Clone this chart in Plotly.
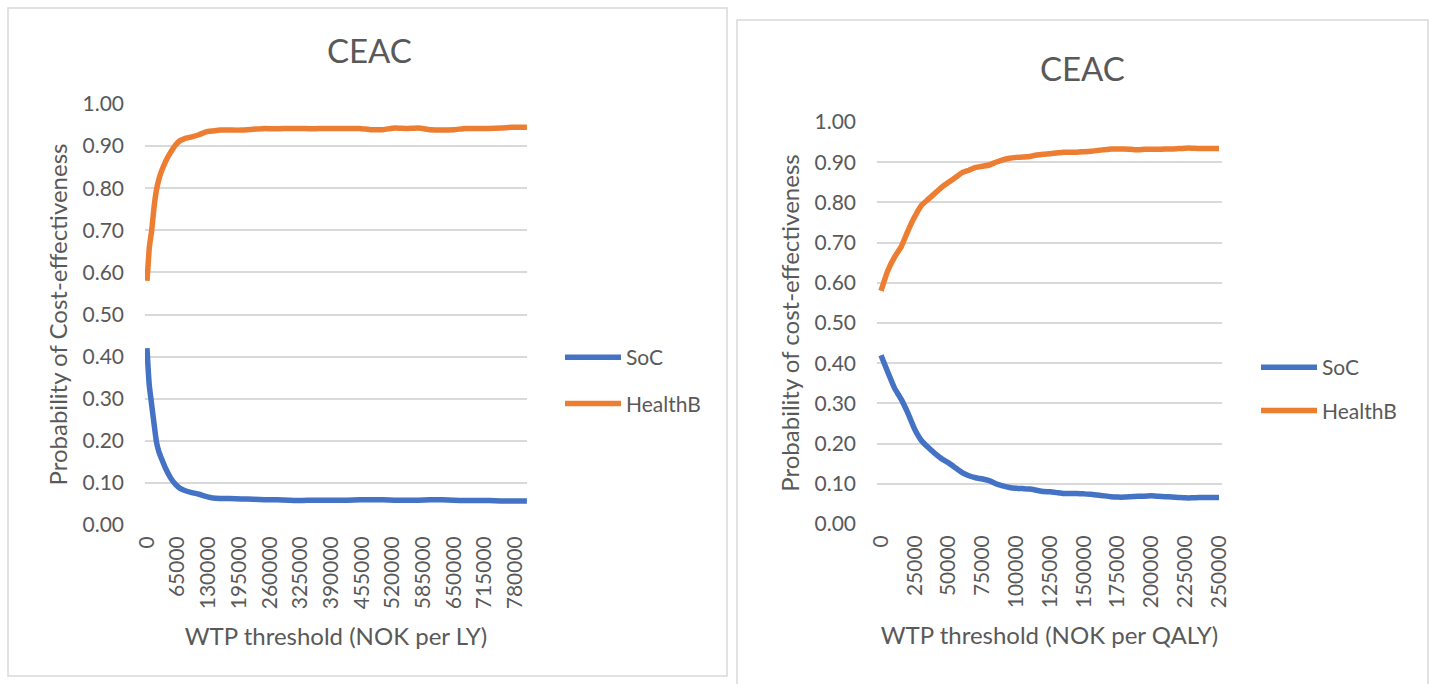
import plotly.graph_objects as go

# ---------------- data ----------------
wtp_ly = [0, 2500, 5000, 10000, 15000, 20000, 25000, 30000, 35000, 40000, 50000, 60000,
          70000, 80000, 95000, 110000, 125000, 140000, 155000, 175000, 200000, 225000,
          250000, 275000, 300000, 325000, 350000, 375000, 400000, 425000, 450000, 475000,
          500000, 525000, 550000, 575000, 600000, 625000, 650000, 675000, 700000, 725000,
          750000, 775000, 805000]
soc_ly = [0.420, 0.370, 0.330, 0.285, 0.240, 0.198, 0.175, 0.160, 0.146, 0.133, 0.112, 0.097,
          0.087, 0.082, 0.077, 0.073, 0.068, 0.064, 0.063, 0.063, 0.062, 0.061,
          0.060, 0.060, 0.059, 0.058, 0.059, 0.059, 0.059, 0.059, 0.060, 0.060,
          0.060, 0.059, 0.059, 0.059, 0.060, 0.060, 0.059, 0.058, 0.058, 0.058,
          0.057, 0.057, 0.057]
hb_ly = [0.580, 0.620, 0.660, 0.700, 0.755, 0.795, 0.820, 0.838, 0.852, 0.865, 0.885, 0.902,
         0.913, 0.918, 0.922, 0.927, 0.934, 0.936, 0.938, 0.938, 0.938, 0.940,
         0.942, 0.941, 0.942, 0.942, 0.941, 0.942, 0.942, 0.942, 0.942, 0.939,
         0.939, 0.943, 0.942, 0.943, 0.939, 0.938, 0.939, 0.942, 0.942, 0.942,
         0.943, 0.945, 0.945]

wtp_qaly = [0, 5000, 10000, 15000, 20000, 25000, 30000, 35000, 40000, 45000, 50000,
            55000, 60000, 65000, 70000, 75000, 80000, 85000, 90000, 95000, 100000,
            105000, 110000, 115000, 120000, 125000, 130000, 135000, 140000, 145000, 150000,
            155000, 160000, 165000, 170000, 175000, 180000, 185000, 190000, 195000, 200000,
            205000, 210000, 215000, 220000, 225000, 230000, 235000, 240000, 245000, 250000]
soc_qaly = [0.420, 0.378, 0.338, 0.310, 0.275, 0.235, 0.207, 0.190, 0.175, 0.162, 0.152,
            0.140, 0.128, 0.120, 0.115, 0.112, 0.108, 0.100, 0.095, 0.091, 0.089,
            0.088, 0.087, 0.084, 0.081, 0.080, 0.078, 0.076, 0.076, 0.076, 0.075,
            0.074, 0.072, 0.070, 0.068, 0.067, 0.067, 0.068, 0.069, 0.069, 0.070,
            0.069, 0.068, 0.067, 0.066, 0.065, 0.065, 0.066, 0.066, 0.066, 0.066]
hb_qaly = [0.580, 0.630, 0.664, 0.690, 0.730, 0.765, 0.793, 0.808, 0.823, 0.838, 0.850,
           0.862, 0.874, 0.880, 0.887, 0.890, 0.893, 0.900, 0.906, 0.910, 0.912,
           0.913, 0.914, 0.918, 0.920, 0.921, 0.923, 0.925, 0.925, 0.925, 0.926,
           0.927, 0.929, 0.931, 0.933, 0.933, 0.933, 0.932, 0.931, 0.932, 0.932,
           0.932, 0.933, 0.933, 0.934, 0.935, 0.935, 0.934, 0.934, 0.934, 0.934]

ticks_ly = [0, 65000, 130000, 195000, 260000, 325000, 390000, 455000, 520000, 585000,
            650000, 715000, 780000]
ticks_qaly = [0, 25000, 50000, 75000, 100000, 125000, 150000, 175000, 200000, 225000, 250000]
y_ticks = [0, 0.1, 0.2, 0.3, 0.4, 0.5, 0.6, 0.7, 0.8, 0.9, 1.0]

series_names = ["SoC", "HealthB"]
colors = ["#4472C4", "#ED7D31"]

# ---------------- figure ----------------
W, H = 1432, 684
FONT = "Lato"
TXT = "#595959"
GRID = "#D9D9D9"

fig = go.Figure()
for name, ys, col in zip(series_names, [soc_ly, hb_ly], colors):
    fig.add_trace(go.Scatter(x=wtp_ly, y=ys, mode="lines", name=name,
                             line=dict(color=col, width=5.5, shape="spline", smoothing=0.4),
                             xaxis="x", yaxis="y", legend="legend", legendgroup="l" + name))
for name, ys, col in zip(series_names, [soc_qaly, hb_qaly], colors):
    fig.add_trace(go.Scatter(x=wtp_qaly, y=ys, mode="lines", name=name,
                             line=dict(color=col, width=5.5, shape="spline", smoothing=0.4),
                             xaxis="x2", yaxis="y2", legend="legend2", legendgroup="r" + name))

def px_x(p):
    return p / W

def px_y(p):
    return 1 - p / H

xcommon = dict(showgrid=False, zeroline=False, showline=False, ticks="", tickangle=-90,
               tickformat="d",
               tickfont=dict(family=FONT, size=21, color=TXT), ticklabelstandoff=6,
               title_font=dict(family=FONT, size=24, color=TXT), title_standoff=19,
               automargin=False)
ycommon = dict(range=[0, 1], tickvals=y_ticks, tickformat=".2f", showgrid=True,
               gridcolor=GRID, gridwidth=2, zeroline=False, showline=False, ticks="",
               tickfont=dict(family=FONT, size=21, color=TXT), ticklabelstandoff=20,
               title_font=dict(family=FONT, size=24, color=TXT), title_standoff=8,
               automargin=False)

fig.update_layout(
    width=W, height=H, margin=dict(l=0, r=0, t=0, b=0),
    paper_bgcolor="white", plot_bgcolor="white",
    font=dict(family=FONT, color=TXT),
    xaxis=dict(domain=[px_x(145), px_x(527)], range=[-4200, 805200], tickvals=ticks_ly,
               anchor="y", title_text="WTP threshold (NOK per LY)", **xcommon),
    yaxis=dict(domain=[px_y(525), px_y(104)], anchor="x",
               title_text="Probability of Cost-effectiveness", **ycommon),
    xaxis2=dict(domain=[px_x(877), px_x(1222)], range=[-2960, 252200], tickvals=ticks_qaly,
                anchor="y2", title_text="WTP threshold (NOK per QALY)", **xcommon),
    yaxis2=dict(domain=[px_y(524), px_y(122)], anchor="x2",
                title_text="Probability of cost-effectiveness", **ycommon),
    legend=dict(x=px_x(560), y=px_y(380.5), xanchor="left", yanchor="middle",
                font=dict(family=FONT, size=21, color=TXT), itemwidth=56,
                tracegroupgap=16, bgcolor="rgba(0,0,0,0)"),
    legend2=dict(x=px_x(1256), y=px_y(389), xanchor="left", yanchor="middle",
                 font=dict(family=FONT, size=21, color=TXT), itemwidth=56,
                 tracegroupgap=13, bgcolor="rgba(0,0,0,0)"),
    shapes=[
        dict(type="rect", xref="paper", yref="paper", x0=px_x(8), x1=px_x(727),
             y0=px_y(676), y1=px_y(8), line=dict(color=GRID, width=1.5), layer="below"),
        dict(type="rect", xref="paper", yref="paper", x0=px_x(737), x1=px_x(1428),
             y0=px_y(690), y1=px_y(20), line=dict(color=GRID, width=1.5), layer="below"),
    ],
    annotations=[
        dict(text="CEAC", xref="paper", yref="paper", x=px_x(369), y=px_y(50),
             xanchor="center", yanchor="middle", showarrow=False,
             font=dict(family=FONT, size=33, color=TXT)),
        dict(text="CEAC", xref="paper", yref="paper", x=px_x(1082), y=px_y(68),
             xanchor="center", yanchor="middle", showarrow=False,
             font=dict(family=FONT, size=33, color=TXT)),
    ],
)

fig.write_html("out.html")
